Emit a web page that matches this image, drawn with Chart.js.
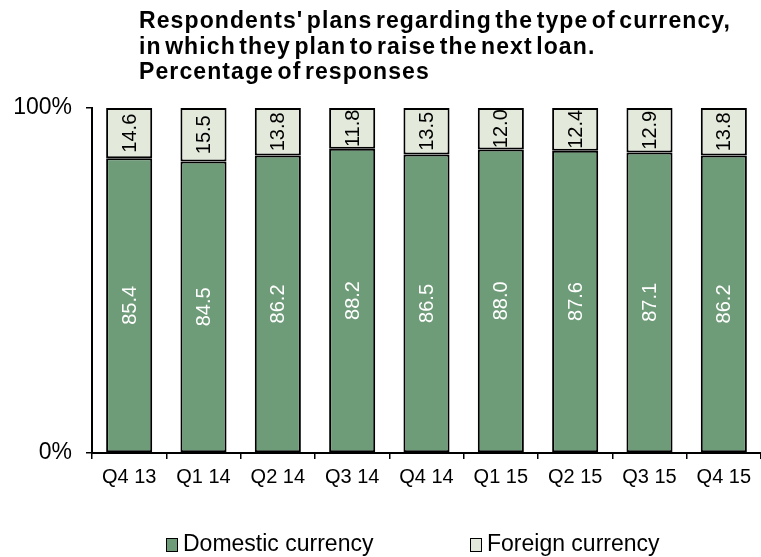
<!DOCTYPE html>
<html>
  <head>
    <title>Currency of next loan</title>
    <script src="https://cdn.jsdelivr.net/npm/chart.js"></script>
    <style>
      body { margin: 0; background: #fff; font-family: 'Liberation Sans', Arial, sans-serif; }
      .wrap { position: relative; width: 761px; height: 557px; }
      .title {
        position: absolute; left: 139px; top: 8px;
        font-weight: bold; font-size: 23px; line-height: 25.5px;
        letter-spacing: 1.1px; word-spacing: -4px; color: #000; white-space: nowrap;
      }
      .legend { position: absolute; left: 166px; top: 530px; font-size: 23px; color: #000; }
      .legend span.item { position: absolute; top: 0; white-space: nowrap; }
      .legend i {
        display: inline-block; width: 10px; height: 12px; border: 1.5px solid #000;
        margin-right: 5px; vertical-align: -1px;
      }
    </style>
  </head>
  <body>
    <div class="wrap">
      <canvas id="loan-chart" width="761" height="557"></canvas>
      <div class="title" id="title"></div>
      <div class="legend" id="legend"></div>
    </div>
    <script>
      var titleLines = [
        "Respondents' plans regarding the type of currency,",
        'in which they plan to raise the next loan.',
        'Percentage of responses'
      ];
      var quarters = ['Q4 13', 'Q1 14', 'Q2 14', 'Q3 14', 'Q4 14', 'Q1 15', 'Q2 15', 'Q3 15', 'Q4 15'];
      var domestic = [85.4, 84.5, 86.2, 88.2, 86.5, 88.0, 87.6, 87.1, 86.2];
      var foreign = [14.6, 15.5, 13.8, 11.8, 13.5, 12.0, 12.4, 12.9, 13.8];
      var seriesNames = ['Domestic currency', 'Foreign currency'];
      var yTicks = [0, 100];

      var colors = ['#6e9b78', '#e4eadb'];
      var labelColors = ['#ffffff', '#000000'];

      document.getElementById('title').innerHTML = titleLines.join('<br>');

      var legendEl = document.getElementById('legend');
      var legendOffsets = [0, 304];
      seriesNames.forEach(function (name, i) {
        var item = document.createElement('span');
        item.className = 'item';
        item.style.left = legendOffsets[i] + 'px';
        item.innerHTML = '<i style="background:' + colors[i] + '"></i>' + name;
        legendEl.appendChild(item);
      });

      // writes the value in the middle of each bar, turned on its side
      var barLabels = {
        id: 'barLabels',
        afterDatasetsDraw: function (chart) {
          var ctx = chart.ctx;
          ctx.save();
          ctx.font = '20px "Liberation Sans", Arial, sans-serif';
          ctx.textAlign = 'center';
          ctx.textBaseline = 'middle';
          chart.data.datasets.forEach(function (ds, di) {
            var meta = chart.getDatasetMeta(di);
            ctx.fillStyle = labelColors[di];
            meta.data.forEach(function (bar, i) {
              var mid = (bar.y + bar.base) / 2;
              ctx.save();
              ctx.translate(bar.x, mid);
              ctx.rotate(-Math.PI / 2);
              ctx.fillText(ds.data[i].toFixed(1), 0, 1);
              ctx.restore();
            });
          });
          ctx.restore();
        }
      };

      var chart = new Chart(document.getElementById('loan-chart'), {
        type: 'bar',
        data: {
          labels: quarters,
          datasets: [
            {
              label: seriesNames[0],
              data: domestic,
              backgroundColor: colors[0],
              borderColor: '#000',
              borderWidth: 2,
              borderSkipped: false
            },
            {
              label: seriesNames[1],
              data: foreign,
              backgroundColor: colors[1],
              borderColor: '#000',
              borderWidth: 2,
              borderSkipped: false
            }
          ]
        },
        options: {
          responsive: false,
          animation: false,
          layout: { padding: { top: 108, left: 0, right: 0, bottom: 64 } },
          datasets: { bar: { categoryPercentage: 1, barPercentage: 0.62 } },
          plugins: {
            legend: { display: false },
            title: { display: false },
            tooltip: { enabled: false }
          },
          scales: {
            x: {
              stacked: true,
              border: { color: '#000', width: 2 },
              grid: { offset: true, drawOnChartArea: false, drawTicks: true, tickLength: 6, color: '#000', lineWidth: 1.5 },
              ticks: {
                color: '#000',
                padding: 6,
                maxRotation: 0,
                font: { family: '"Liberation Sans", Arial, sans-serif', size: 20 }
              },
              afterFit: function (scale) { scale.height = 40; }
            },
            y: {
              stacked: true,
              min: 0,
              max: 100,
              border: { color: '#000', width: 2 },
              grid: { drawOnChartArea: false, drawTicks: true, tickLength: 6, color: '#000', lineWidth: 1.5 },
              afterBuildTicks: function (scale) {
                scale.ticks = yTicks.map(function (v) { return { value: v }; });
              },
              ticks: {
                color: '#000',
                padding: 14,
                font: { family: '"Liberation Sans", Arial, sans-serif', size: 23 },
                callback: function (v) { return v + '%'; }
              },
              afterFit: function (scale) { scale.width = 92; }
            }
          }
        },
        plugins: [barLabels]
      });
    </script>
  </body>
</html>
